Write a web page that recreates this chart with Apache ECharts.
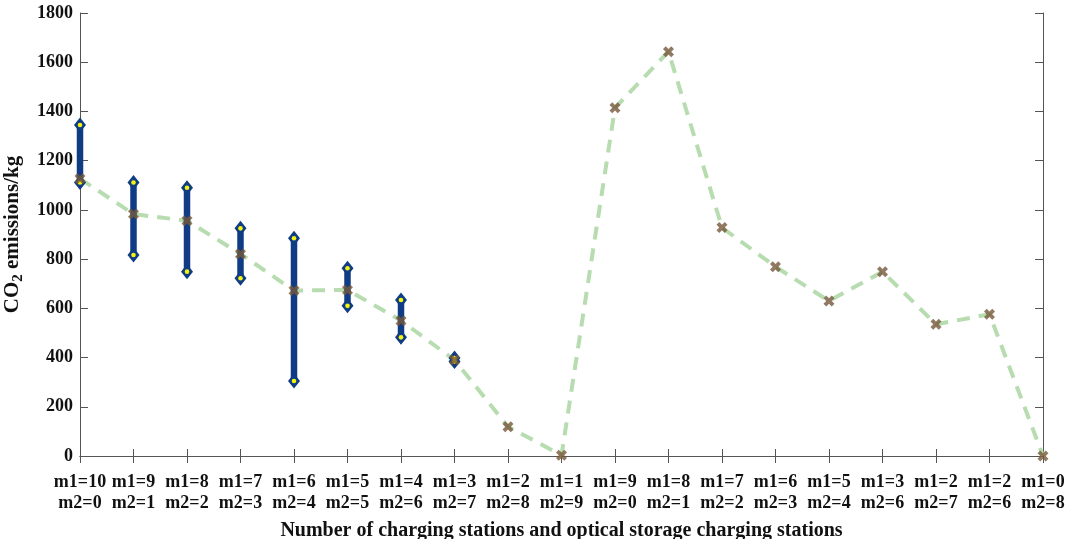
<!DOCTYPE html>
<html>
<head>
<meta charset="utf-8">
<script src="https://cdn.jsdelivr.net/npm/echarts@6/dist/echarts.min.js"></script>
<style>
  html, body { margin: 0; padding: 0; background: #fff; }
  #main { width: 1070px; height: 539px; }
</style>
</head>
<body>
<div id="main"></div>
<script>
// categories (m1 = charging stations, m2 = optical storage charging stations)
const categories = [
  'm1=10\nm2=0', 'm1=9\nm2=1', 'm1=8\nm2=2', 'm1=7\nm2=3', 'm1=6\nm2=4',
  'm1=5\nm2=5', 'm1=4\nm2=6', 'm1=3\nm2=7', 'm1=2\nm2=8', 'm1=1\nm2=9',
  'm1=9\nm2=0', 'm1=8\nm2=1', 'm1=7\nm2=2', 'm1=6\nm2=3', 'm1=5\nm2=4',
  'm1=3\nm2=6', 'm1=2\nm2=7', 'm1=2\nm2=6', 'm1=0\nm2=8'
];
// CO2 emissions (kg)
const co2 = [1127, 983, 956, 821, 672, 675, 550, 390, 119, 3,
             1415, 1643, 928, 769, 630, 749, 535, 576, 0];
// range bars for the first eight cases
const rangeLow  = [1111, 817, 749, 722, 305, 610, 482, 384];
const rangeHigh = [1345, 1111, 1090, 925, 885, 763, 634, 398];
const yTicks = { min: 0, max: 1800, interval: 200 };

const FONT = "'Liberation Serif', 'Times New Roman', serif";
const BLUE = '#0f3c85';
const axisCol = '#555';

const rangeData = rangeLow.map((lo, i) => [i, lo, rangeHigh[i]]);
const pointData = co2.map((v, i) => [i, v]);

var myChart = echarts.init(document.getElementById('main'));
myChart.setOption({
  animation: false,
  grid: { left: 80, right: 27, top: 13, bottom: 83, outerBoundsMode: 'none', containLabel: false },
  xAxis: [{
    type: 'category',
    data: categories,
    boundaryGap: false,
    axisLine: { lineStyle: { color: axisCol } },
    axisTick: { inside: true, length: 7, lineStyle: { color: axisCol } },
    axisLabel: {
      interval: 0, margin: 16, color: '#111',
      fontFamily: FONT, fontWeight: 'bold', fontSize: 18, lineHeight: 21
    },
    name: 'Number of charging stations and optical storage charging stations',
    nameLocation: 'middle',
    nameGap: 65,
    nameTextStyle: { fontFamily: FONT, fontWeight: 'bold', fontSize: 20, color: '#111' },
    splitLine: { show: false }
  }, {
    type: 'category',
    data: categories,
    position: 'top',
    boundaryGap: false,
    axisLine: { lineStyle: { color: axisCol } },
    axisTick: { inside: true, length: 7, lineStyle: { color: axisCol } },
    axisLabel: { show: false },
    splitLine: { show: false }
  }],
  yAxis: [{
    type: 'value',
    min: yTicks.min, max: yTicks.max, interval: yTicks.interval,
    axisLine: { show: true, lineStyle: { color: axisCol } },
    axisTick: { show: true, inside: true, length: 8, lineStyle: { color: axisCol } },
    axisLabel: {
      margin: 7, color: '#111', fontFamily: FONT, fontWeight: 'bold', fontSize: 18,
      formatter: v => String(v)
    },
    splitLine: { show: false },
    name: 'CO{sub|2} emissions/kg',
    nameLocation: 'middle',
    nameGap: 52,
    nameTextStyle: {
      fontFamily: FONT, fontWeight: 'bold', fontSize: 21, color: '#111',
      rich: {
        sub: { fontFamily: FONT, fontWeight: 'bold', fontSize: 15, color: '#111',
               verticalAlign: 'bottom', padding: [12, 0, 0, 0] }
      }
    }
  }, {
    type: 'value',
    position: 'right',
    min: yTicks.min, max: yTicks.max, interval: yTicks.interval,
    axisLine: { show: true, lineStyle: { color: axisCol } },
    axisTick: { show: true, inside: true, length: 8, lineStyle: { color: axisCol } },
    axisLabel: { show: false },
    splitLine: { show: false }
  }],
  series: [{
    name: 'trend',
    type: 'line',
    data: pointData,
    showSymbol: false,
    z: 1,
    lineStyle: { color: '#b7dcb0', width: 4, type: [13, 9] }
  }, {
    name: 'range',
    type: 'custom',
    data: rangeData,
    encode: { x: 0, y: [1, 2] },
    z: 2,
    renderItem: function (params, api) {
      const lo = api.coord([api.value(0), api.value(1)]);
      const hi = api.coord([api.value(0), api.value(2)]);
      const diamond = p => ({
        type: 'polygon',
        shape: { points: [[p[0], p[1] - 7.5], [p[0] + 6, p[1]], [p[0], p[1] + 7.5], [p[0] - 6, p[1]]] },
        style: { fill: BLUE }
      });
      const dot = p => ({ type: 'circle', shape: { cx: p[0], cy: p[1], r: 2.3 }, style: { fill: '#f4f40c' } });
      return {
        type: 'group',
        children: [
          { type: 'line', shape: { x1: lo[0], y1: lo[1], x2: hi[0], y2: hi[1] },
            style: { stroke: BLUE, lineWidth: 6.5 } },
          diamond(lo), diamond(hi), dot(lo), dot(hi)
        ]
      };
    }
  }, {
    name: 'points',
    type: 'scatter',
    data: pointData,
    z: 3,
    symbol: 'path://M0,3 L3,0 L6,3 L9,0 L12,3 L9,6 L12,9 L9,12 L6,9 L3,12 L0,9 L3,6 Z',
    symbolSize: 11,
    itemStyle: { color: '#76593a' }
  }]
});
</script>
</body>
</html>
